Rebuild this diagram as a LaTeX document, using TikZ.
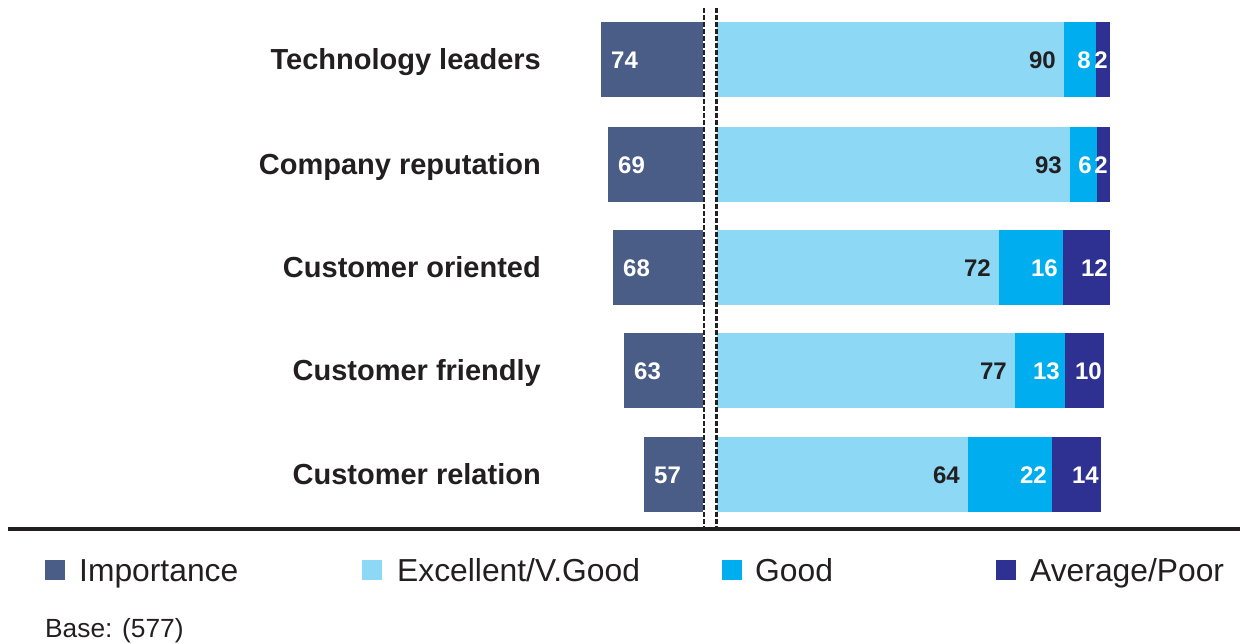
\documentclass[tikz,border=0pt]{standalone}
\usepackage{fontspec}
\setmainfont{Liberation Sans}
\definecolor{imp}{HTML}{4A5D87}
\definecolor{exc}{HTML}{8DD8F5}
\definecolor{good}{HTML}{00AEEF}
\definecolor{avg}{HTML}{2E3192}
\definecolor{ink}{HTML}{231F20}
\begin{document}
\begin{tikzpicture}[x=1pt,y=-1pt,
  rowlabel/.style={anchor=base east,inner sep=0pt,font=\fontsize{29}{32}\selectfont\bfseries,text=ink},
  valdark/.style={anchor=base east,inner sep=0pt,font=\fontsize{24}{26}\selectfont\bfseries,text=ink},
  vallight/.style={anchor=base east,inner sep=0pt,font=\fontsize{24}{26}\selectfont\bfseries,text=white},
  impval/.style={anchor=base west,inner sep=0pt,font=\fontsize{24}{26}\selectfont\bfseries,text=white},
  legtext/.style={anchor=base west,inner sep=0pt,font=\fontsize{31.8}{34}\selectfont,text=ink},
  legbox/.style={minimum size=20pt,inner sep=0pt,anchor=west},
  divider/.style={ink,line width=2.4pt,dash pattern=on 5pt off 2pt}]
\useasboundingbox (0,0) rectangle (1240,643);
\foreach \i/\yc/\il/\lab/\iv/\ee/\ev/\ge/\gv/\ae/\av in {
  1/59.5/601/Technology leaders/74/1064/90/1096/8/1110/2,
  2/164.5/608/Company reputation/69/1070/93/1097/6/1110/2,
  3/267.5/613/Customer oriented/68/999/72/1063/16/1110/12,
  4/370.5/624/Customer friendly/63/1015/77/1065/13/1104/10,
  5/474.5/644/Customer relation/57/968/64/1052/22/1101/14}{
  \fill[imp] (\il,\yc-37.5) rectangle (703,\yc+37.5);
  \fill[exc] (717,\yc-37.5) rectangle (\ee,\yc+37.5);
  \fill[good] (\ee,\yc-37.5) rectangle (\ge,\yc+37.5);
  \fill[avg] (\ge,\yc-37.5) rectangle (\ae,\yc+37.5);
  \node[rowlabel] (lab\i) at (541,\yc+10) {\lab};
  \node[impval] (imp\i) at (\il+10,\yc+8.5) {\iv};
  \node[valdark] (exc\i) at (\ee-8,\yc+8.5) {\ev};
  \node[vallight] (good\i) at (\ge-5,\yc+8.5) {\gv};
  \node[vallight] (avg\i) at (\ae-2,\yc+8.5) {\av};
}
\coordinate (d1t) at (704,8);
\coordinate (d1b) at (704,528);
\coordinate (d2t) at (716.5,8);
\coordinate (d2b) at (716.5,528);
\draw[divider] (d1t) -- (d1b);
\draw[divider] (d2t) -- (d2b);
\coordinate (bl) at (8,529);
\coordinate (br) at (1240,529);
\draw[ink,line width=4.5pt] (bl) -- (br);
\node[legbox,fill=imp] (k1) at (45,570) {};
\node[legtext] (t1) at (79,581) {Importance};
\node[legbox,fill=exc] (k2) at (362,570) {};
\node[legtext] (t2) at (397,581) {Excellent/V.Good};
\node[legbox,fill=good] (k3) at (722,570) {};
\node[legtext] (t3) at (755,581) {Good};
\node[legbox,fill=avg] (k4) at (996,570) {};
\node[legtext] (t4) at (1030,581) {Average/Poor};
\node[anchor=base west,inner sep=0pt,font=\fontsize{26.3}{28}\selectfont,text=ink] (base) at (45,637) {Base: (577)};
\end{tikzpicture}
\end{document}
